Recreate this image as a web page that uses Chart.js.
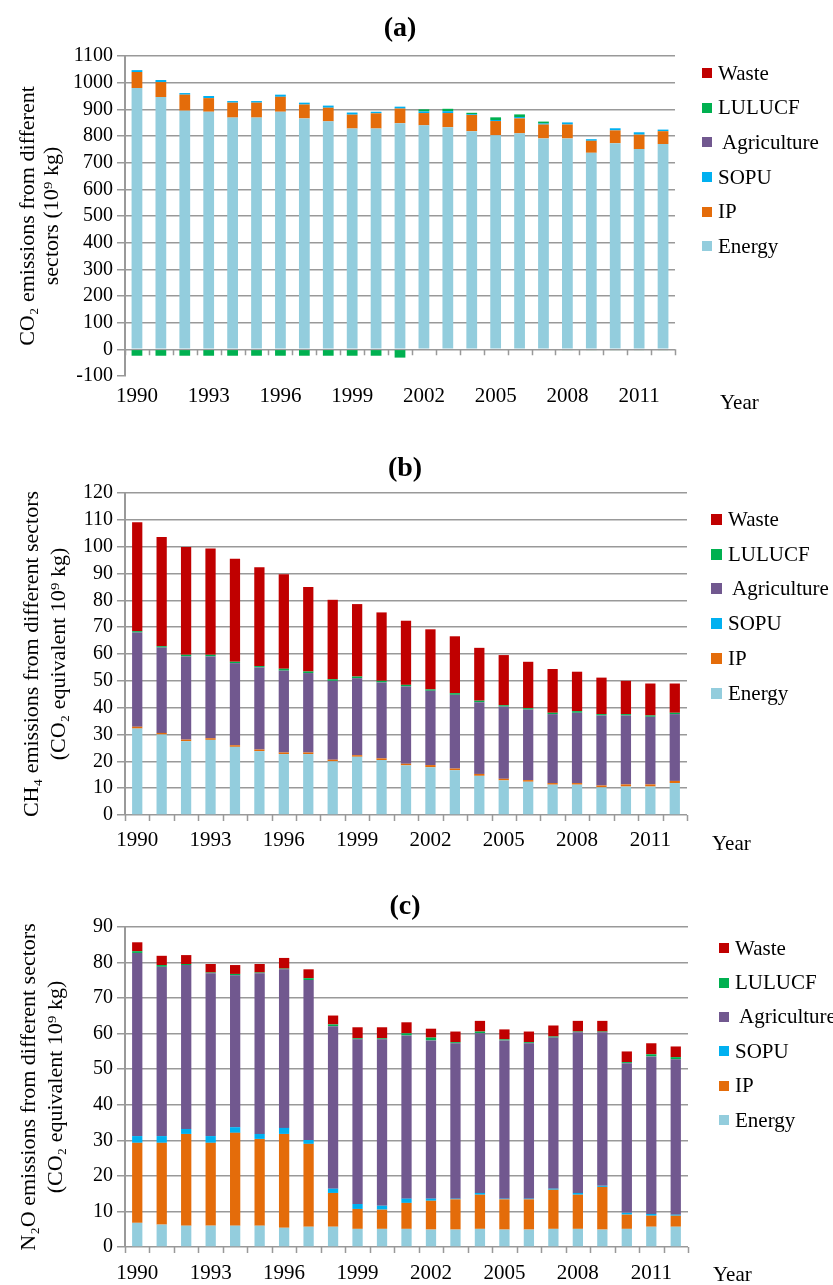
<!DOCTYPE html>
<html>
<head>
<meta charset="utf-8">
<title>Emissions by sector</title>
<script src="https://cdn.jsdelivr.net/npm/chart.js@4.4.1/dist/chart.umd.min.js"></script>
<style>
  body { margin: 0; background: #fff; }
  #page { position: relative; width: 833px; height: 1285px; overflow: hidden;
          font-family: "Liberation Serif", "Times New Roman", serif; color: #000; }
  canvas { position: absolute; left: 0; }
  .panel-title { position: absolute; width: 100px; text-align: center; font-weight: bold; font-size: 28px; line-height: 32px; }
  .year { position: absolute; font-size: 21px; line-height: 24px; }
  .legend { position: absolute; margin: 0; padding: 0; list-style: none; font-size: 21px; }
  .legend li { display: flex; align-items: center; white-space: pre; }
  .legend .box { display: inline-block; margin-right: 6px; }
</style>
</head>
<body>
<div id="page">
  <canvas id="chartA" width="833" height="380" style="top:40px"></canvas>
  <canvas id="chartB" width="833" height="385" style="top:470px"></canvas>
  <canvas id="chartC" width="833" height="385" style="top:900px"></canvas>

  <div class="panel-title" style="left:350px;top:11px">(a)</div>
  <div class="panel-title" style="left:355px;top:451px">(b)</div>
  <div class="panel-title" style="left:355px;top:889px">(c)</div>

  <ul class="legend" id="legendA" style="left:702px;top:56px"></ul>
  <ul class="legend" id="legendB" style="left:711px;top:502px"></ul>
  <ul class="legend" id="legendC" style="left:719px;top:931px"></ul>

  <div class="year" style="left:720px;top:390px">Year</div>
  <div class="year" style="left:712px;top:831px">Year</div>
  <div class="year" style="left:713px;top:1262px">Year</div>
</div>
<script>
const years = ['1990', '1991', '1992', '1993', '1994', '1995', '1996', '1997', '1998', '1999', '2000', '2001',
               '2002', '2003', '2004', '2005', '2006', '2007', '2008', '2009', '2010', '2011', '2012'];
const sectors = ['Energy', 'IP', 'SOPU', 'Agriculture', 'LULUCF', 'Waste'];
const legendNames = ['Energy', 'IP', 'SOPU', ' Agriculture', 'LULUCF', 'Waste'];

// (a) CO2, 10^9 kg
const co2Energy = [980, 946, 895, 891, 869, 869, 891, 866, 855, 828, 828, 848, 840, 833, 818, 803, 810, 791, 791, 737, 773, 751, 770];
const co2IP = [60, 56, 60, 51, 56, 56, 56, 52, 51, 52, 57, 55, 46, 53, 61, 53, 56, 52, 52, 45, 48, 54, 48];
const co2SOPU = [7, 8, 6, 8, 6, 6, 8, 7, 8, 8, 6, 7, 6, 7, 3, 4, 5, 4, 8, 6, 8, 9, 6];
const co2Agriculture = [0, 0, 0, 0, 0, 0, 0, 0, 0, 0, 0, 0, 0, 0, 0, 0, 0, 0, 0, 0, 0, 0, 0];
const co2LULUCF = [-24, -24, -24, -24, -24, -24, -24, -24, -24, -24, -24, -31, 8, 9, 5, 10, 10, 7, -3, -3, -3, -3, -3];
const co2Waste = [0, 0, 0, 0, 0, 0, 0, 0, 0, 0, 0, 0, 0, 0, 0, 0, 0, 0, 0, 0, 0, 0, 0];

// (b) CH4, CO2 equivalent 10^9 kg
const ch4Energy = [32.2, 30.0, 27.5, 28.0, 25.4, 23.8, 22.7, 22.7, 20.0, 21.7, 20.5, 18.5, 17.8, 16.7, 14.6, 12.9, 12.4, 11.3, 11.3, 10.3, 10.6, 10.6, 11.9];
const ch4IP = [0.7, 0.6, 0.6, 0.6, 0.6, 0.6, 0.6, 0.6, 0.6, 0.6, 0.6, 0.6, 0.8, 0.6, 0.7, 0.6, 0.6, 0.6, 0.6, 0.7, 0.8, 0.8, 0.8];
const ch4SOPU = [0, 0, 0, 0, 0, 0, 0, 0, 0, 0, 0, 0, 0, 0, 0, 0, 0, 0, 0, 0, 0, 0, 0];
const ch4Agriculture = [35.1, 31.8, 31.0, 30.5, 30.6, 30.6, 30.5, 29.6, 29.4, 28.7, 28.3, 28.8, 27.7, 27.5, 26.7, 26.9, 26.3, 25.7, 26.2, 26.1, 25.7, 25.2, 24.9];
const ch4LULUCF = [0.5, 0.5, 0.6, 0.6, 0.5, 0.5, 0.7, 0.6, 0.6, 0.6, 0.6, 0.6, 0.5, 0.6, 0.6, 0.5, 0.5, 0.5, 0.6, 0.5, 0.5, 0.5, 0.5];
const ch4Waste = [40.6, 40.7, 40.2, 39.6, 38.4, 36.8, 35.2, 31.5, 29.6, 27.0, 25.5, 23.9, 22.4, 21.2, 19.7, 18.7, 17.3, 16.3, 14.7, 13.6, 12.4, 11.9, 10.9];

// (c) N2O, CO2 equivalent 10^9 kg
const n2oEnergy = [6.8, 6.3, 6.0, 6.0, 6.0, 6.0, 5.4, 5.7, 5.7, 5.1, 5.1, 5.1, 4.9, 4.9, 5.1, 4.9, 4.9, 5.1, 5.1, 4.9, 5.1, 5.7, 5.7];
const n2oIP = [22.5, 23.0, 25.8, 23.3, 26.1, 24.4, 26.4, 23.3, 9.5, 5.6, 5.4, 7.3, 8.1, 8.5, 9.6, 8.5, 8.5, 11.0, 9.6, 12.0, 4.0, 3.1, 3.1];
const n2oSOPU = [1.9, 1.9, 1.4, 1.9, 1.6, 1.4, 1.7, 1.1, 1.2, 1.4, 1.1, 1.2, 0.6, 0.2, 0.5, 0.2, 0.2, 0.3, 0.5, 0.3, 0.5, 0.5, 0.3];
const n2oAgriculture = [51.5, 47.6, 46.1, 45.8, 42.7, 45.2, 44.6, 45.0, 45.7, 46.3, 46.8, 45.9, 44.5, 43.7, 44.9, 44.5, 43.7, 42.5, 45.2, 43.2, 42.1, 44.3, 43.7];
const n2oLULUCF = [0.5, 0.5, 0.3, 0.2, 0.4, 0.2, 0.2, 0.5, 0.5, 0.3, 0.3, 0.6, 0.8, 0.3, 0.5, 0.3, 0.3, 0.3, 0.2, 0.2, 0.3, 0.6, 0.6];
const n2oWaste = [2.5, 2.6, 2.5, 2.4, 2.5, 2.4, 3.0, 2.5, 2.5, 3.1, 3.1, 3.1, 2.5, 3.0, 3.0, 2.8, 3.0, 3.1, 3.0, 3.0, 3.0, 3.1, 3.0];

const sectorColors = ['#93cddd', '#e46c0a', '#00b0f0', '#71588f', '#00b050', '#c00000'];
const gridColor = '#999999';
const serif = '"Liberation Serif", "Times New Roman", serif';

// small tick marks under the zero line, between categories
const zeroTicks = {
    id: 'zeroTicks',
    beforeDatasetsDraw(chart) {
        const { ctx, scales: { x, y } } = chart;
        const y0 = y.getPixelForValue(0);
        const n = chart.data.labels.length;
        const step = (x.right - x.left) / n;
        ctx.save();
        ctx.strokeStyle = gridColor;
        ctx.lineWidth = 1.5;
        ctx.beginPath();
        for (let i = 0; i <= n; i++) {
            const px = Math.round(x.getPixelForValue(0) - step / 2 + i * step) + 0.5;
            ctx.moveTo(px, y0);
            ctx.lineTo(px, y0 + 6);
        }
        ctx.stroke();
        ctx.restore();
    }
};

function makeChart(id, series, cfg) {
    const datasets = sectors.map((name, i) => ({
        label: name,
        data: series[i],
        backgroundColor: sectorColors[i],
        borderWidth: 0,
        barPercentage: cfg.barPct,
        categoryPercentage: 1
    }));
    return new Chart(document.getElementById(id), {
        type: 'bar',
        data: { labels: years, datasets: datasets },
        options: {
            responsive: false,
            animation: false,
            devicePixelRatio: 1,
            layout: { padding: { top: cfg.top, right: cfg.right, bottom: 0, left: 0 } },
            plugins: { legend: { display: false }, tooltip: { enabled: false } },
            scales: {
                x: {
                    stacked: true,
                    grid: { display: false, drawTicks: false },
                    border: { display: false },
                    ticks: {
                        autoSkip: false, maxRotation: 0, padding: cfg.labelPad, color: '#000',
                        font: { family: serif, size: 21 },
                        callback: (v, i) => i % 3 === 0 ? years[i] : ''
                    },
                    afterFit: s => { s.height = cfg.xHeight; }
                },
                y: {
                    stacked: true,
                    min: cfg.min,
                    max: cfg.max,
                    ticks: {
                        stepSize: cfg.step, autoSkip: false, padding: 4, color: '#000',
                        font: { family: serif, size: 20 },
                        callback: v => String(v)
                    },
                    grid: {
                        color: c => (cfg.min < 0 && c.tick && c.tick.value === cfg.min) ? 'rgba(0,0,0,0)' : gridColor,
                        lineWidth: 1.5,
                        tickLength: 8,
                        tickColor: gridColor,
                        tickWidth: 1.5
                    },
                    border: { color: gridColor, width: 2 },
                    title: {
                        display: true,
                        text: cfg.title,
                        color: '#000',
                        font: { family: serif, size: 22, lineHeight: cfg.titleLH },
                        padding: { top: cfg.titlePad, bottom: 0 }
                    },
                    afterFit: s => { s.width = 125; }
                }
            }
        },
        plugins: [zeroTicks]
    });
}

function makeLegend(id, boxSize, rowHeight) {
    const ul = document.getElementById(id);
    for (let i = sectors.length - 1; i >= 0; i--) {
        const li = document.createElement('li');
        li.style.height = rowHeight + 'px';
        const box = document.createElement('span');
        box.className = 'box';
        box.style.width = boxSize + 'px';
        box.style.height = boxSize + 'px';
        box.style.background = sectorColors[i];
        li.appendChild(box);
        li.appendChild(document.createTextNode(legendNames[i]));
        ul.appendChild(li);
    }
}

makeChart('chartA', [co2Energy, co2IP, co2SOPU, co2Agriculture, co2LULUCF, co2Waste], {
    min: -100, max: 1100, step: 100, top: 14, right: 158, xHeight: 44, labelPad: 8, barPct: 0.45,
    title: ['CO\u2082 emissions from different', 'sectors (10\u2079 kg)'], titleLH: 1.1, titlePad: 16
});
makeChart('chartB', [ch4Energy, ch4IP, ch4SOPU, ch4Agriculture, ch4LULUCF, ch4Waste], {
    min: 0, max: 120, step: 10, top: 23, right: 146, xHeight: 40, labelPad: 13, barPct: 0.42,
    title: ['CH\u2084 emissions from different sectors', '(CO\u2082 equivalent 10\u2079 kg)'], titleLH: 1.23, titlePad: 19
});
makeChart('chartC', [n2oEnergy, n2oIP, n2oSOPU, n2oAgriculture, n2oLULUCF, n2oWaste], {
    min: 0, max: 90, step: 10, top: 27, right: 145, xHeight: 38, labelPad: 14, barPct: 0.42,
    title: ['N\u2082O emissions from different sectors', '(CO\u2082 equivalent 10\u2079 kg)'], titleLH: 1.23, titlePad: 16
});

makeLegend('legendA', 10, 34.6);
makeLegend('legendB', 11, 34.8);
makeLegend('legendC', 10, 34.4);
</script>
</body>
</html>
